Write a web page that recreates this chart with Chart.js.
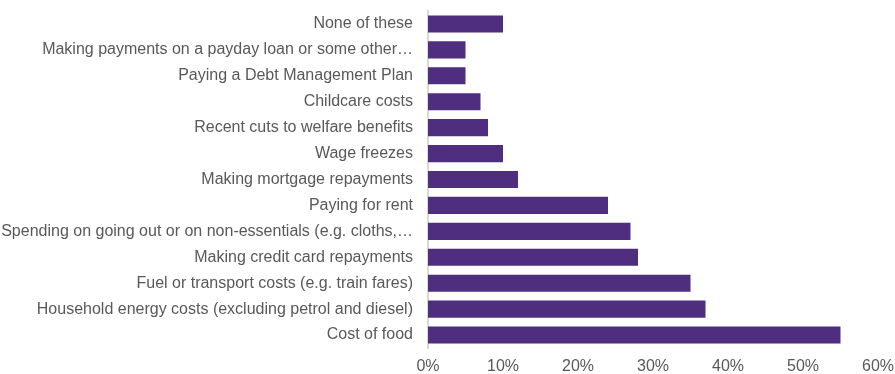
<!DOCTYPE html>
<html>
<head>
<meta charset="utf-8">
<script src="https://cdn.jsdelivr.net/npm/chart.js@4"></script>
<style>
  body { margin: 0; background: #fff; }
  #wrap { width: 895px; height: 374px; }
</style>
</head>
<body>
<div id="wrap"><canvas id="chartCanvas"></canvas></div>
<script>
// --- data, top to bottom as in the chart ---
const categories = [
  "None of these",
  "Making payments on a payday loan or some other\u2026",
  "Paying a Debt Management Plan",
  "Childcare costs",
  "Recent cuts to welfare benefits",
  "Wage freezes",
  "Making mortgage repayments",
  "Paying for rent",
  "Spending on going out or on non-essentials (e.g. cloths,\u2026",
  "Making credit card repayments",
  "Fuel or transport costs (e.g. train fares)",
  "Household energy costs (excluding petrol and diesel)",
  "Cost of food"
];
const shares = [10, 5, 5, 7, 8, 10, 12, 24, 27, 28, 35, 37, 55];
const xTicks = [0, 10, 20, 30, 40, 50, 60];

const canvas = document.getElementById("chartCanvas");
const textColor = "#595959";
const font = { family: "'Liberation Sans', Arial, sans-serif", size: 16 };

new Chart(canvas, {
  type: "bar",
  data: {
    labels: categories,
    datasets: [{
      data: shares,
      backgroundColor: "#4f2d7f",
      barPercentage: 0.66,
      categoryPercentage: 1
    }]
  },
  options: {
    indexAxis: "y",
    responsive: true,
    maintainAspectRatio: false,
    animation: false,
    layout: { padding: { top: 11, right: 17, bottom: 0, left: 0 } },
    plugins: { legend: { display: false }, tooltip: { enabled: false } },
    scales: {
      x: {
        min: xTicks[0],
        max: xTicks[xTicks.length - 1],
        afterBuildTicks: s => { s.ticks = xTicks.map(v => ({ value: v })); },
        grid: { display: false, drawTicks: false, tickLength: 0 },
        border: { display: false },
        ticks: { color: textColor, font, padding: 9, callback: v => v + "%" },
        afterFit: s => { s.height = 26; s.paddingLeft = 0; s.paddingRight = 0; }
      },
      y: {
        grid: { display: false, drawTicks: false, tickLength: 0 },
        border: { display: true, color: "#d9d9d9", width: 2 },
        ticks: { color: textColor, font, padding: 15, autoSkip: false },
        afterFit: s => { s.width = 428; s.paddingTop = 0; s.paddingBottom = 0; }
      }
    }
  }
});
</script>
</body>
</html>
